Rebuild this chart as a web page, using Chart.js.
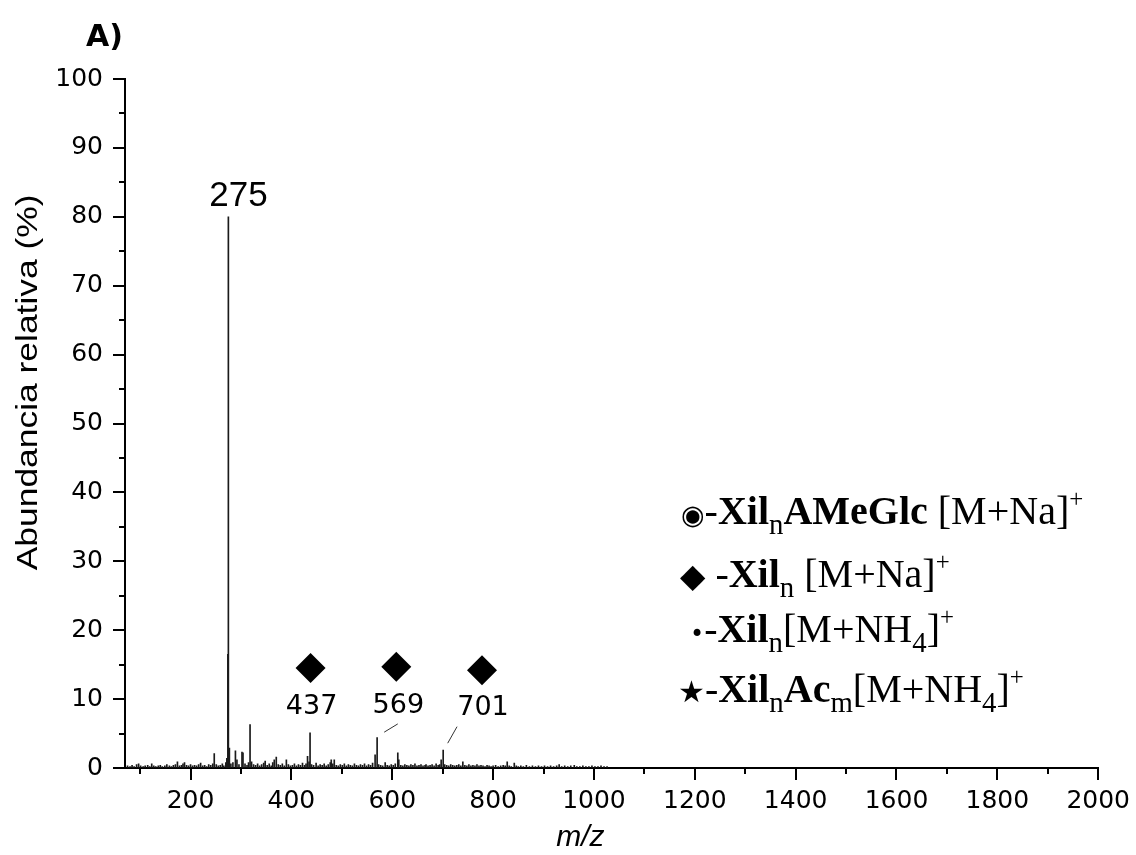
<!DOCTYPE html>
<html>
<head>
<meta charset="utf-8">
<script src="https://cdn.jsdelivr.net/npm/chart.js@4.4.1/dist/chart.umd.min.js"></script>
<style>
  body { margin: 0; background: #fff; }
  #wrap { position: relative; width: 1136px; height: 855px; }
  .key { position: absolute; font-family: 'Liberation Serif', 'Times New Roman', serif; font-size: 40px; line-height: 1; white-space: nowrap; color: #000; }
  .key b { font-weight: bold; }
  .sb { position: relative; top: 10px; font-size: 0.72em; }
  .sp { position: relative; top: -17px; font-size: 0.62em; }
  .sym { font-family: 'DejaVu Sans', sans-serif; }
</style>
</head>
<body>
<div id="wrap">
  <canvas id="ms-chart" width="1136" height="855"></canvas>
  <div class="key" style="left:681px; top:491px;"><span class="sym" style="font-size:27px;">◉</span>-<b>Xil</b><span class="sb">n</span><b>AMeGlc</b> [M+Na]<span class="sp">+</span></div>
  <div class="key" style="left:680px; top:554px;"><span class="sym" style="font-size:33px;">◆</span> -<b>Xil</b><span class="sb">n</span> [M+Na]<span class="sp">+</span></div>
  <div class="key" style="left:690px; top:609px;"><span class="sym" style="font-size:24px;">•</span>-<b>Xil</b><span class="sb">n</span>[M+NH<span class="sb">4</span>]<span class="sp">+</span></div>
  <div class="key" style="left:678px; top:669px;"><span class="sym" style="font-size:30px;">★</span>-<b>Xil</b><span class="sb">n</span><b>Ac</b><span class="sb">m</span>[M+NH<span class="sb">4</span>]<span class="sp">+</span></div>
</div>
<script>
//--------------------------------------------- Data ----------------------------------------------------------
// main peaks (m/z, relative abundance %)
var peakMz    = [247, 272, 274, 275, 277, 289, 302, 304, 318, 370, 432, 437, 566, 570, 611, 697, 701];
var peakAbund = [2.1, 1.4, 16.5, 80, 2.9, 2.5, 2.3, 2.2, 6.3, 1.6, 1.7, 5.1, 1.9, 4.4, 2.2, 1.2, 2.6];

// small baseline peaks
var baseMz = [75, 80, 84, 88, 93, 97, 101, 106, 110, 115, 119, 123, 127, 131, 136, 140, 144, 149, 153, 158,
  162, 166, 170, 174, 178, 182, 185, 188, 192, 196, 200, 204, 208, 212, 216, 220, 224, 228, 232, 236,
  240, 244, 251, 255, 259, 263, 266, 270, 280, 284, 292, 296, 308, 312, 315, 321, 325, 329, 333, 337,
  341, 345, 348, 352, 356, 360, 363, 366, 374, 378, 382, 386, 390, 394, 398, 402, 406, 410, 414, 418,
  422, 426, 429, 435, 440, 444, 449, 453, 457, 461, 465, 469, 473, 477, 479, 482, 485, 489, 493, 497,
  501, 505, 509, 513, 517, 521, 525, 529, 533, 537, 541, 545, 549, 553, 557, 561, 573, 577, 581, 586,
  590, 594, 598, 602, 606, 613, 617, 621, 625, 629, 633, 637, 641, 645, 649, 653, 657, 661, 665, 667,
  671, 675, 679, 683, 687, 691, 694, 704, 708, 712, 716, 720, 724, 728, 732, 736, 740, 744, 748, 752,
  756, 760, 764, 768, 772, 776, 780, 784, 788, 792, 796, 800, 805, 810, 815, 820, 824, 828, 832, 836,
  842, 846, 850, 855, 860, 866, 872, 878, 884, 890, 896, 902, 908, 914, 920, 926, 931, 936, 942, 948,
  954, 961, 966, 972, 978, 984, 990, 996, 1002, 1008, 1014, 1020, 1026];
var baseAbund = [0.3, 0.2, 0.4, 0.2, 0.5, 0.6, 0.3, 0.2, 0.3, 0.4, 0.2, 0.6, 0.3, 0.2, 0.3, 0.4, 0.2, 0.3, 0.5, 0.3,
  0.2, 0.4, 0.5, 0.9, 0.3, 0.4, 0.6, 0.8, 0.4, 0.3, 0.5, 0.3, 0.4, 0.3, 0.5, 0.7, 0.3, 0.4, 0.2, 0.5,
  0.4, 0.6, 0.5, 0.3, 0.4, 0.6, 0.3, 0.8, 0.6, 0.8, 1.2, 0.5, 0.6, 0.4, 0.8, 0.9, 0.5, 0.4, 0.6, 0.3,
  0.5, 0.7, 1.0, 0.4, 0.6, 0.3, 0.8, 1.2, 0.5, 0.4, 0.6, 0.3, 1.2, 0.5, 0.3, 0.4, 0.6, 0.3, 0.5, 0.4,
  0.7, 0.4, 0.6, 0.9, 0.5, 0.4, 0.7, 0.3, 0.5, 0.4, 0.6, 0.3, 0.5, 0.8, 1.2, 0.6, 1.2, 0.4, 0.3, 0.5,
  0.4, 0.6, 0.3, 0.5, 0.4, 0.3, 0.6, 0.4, 0.3, 0.5, 0.4, 0.6, 0.3, 0.5, 0.4, 0.7, 0.5, 0.4, 0.3, 0.8,
  0.4, 0.3, 0.5, 0.4, 0.6, 1.2, 0.4, 0.3, 0.5, 0.4, 0.3, 0.5, 0.4, 0.6, 0.3, 0.4, 0.5, 0.3, 0.4, 0.5,
  0.3, 0.4, 0.5, 0.3, 0.6, 0.4, 0.5, 0.5, 0.4, 0.3, 0.5, 0.4, 0.3, 0.4, 0.5, 0.3, 0.9, 0.4, 0.3, 0.5,
  0.3, 0.4, 0.3, 0.5, 0.3, 0.4, 0.3, 0.2, 0.4, 0.3, 0.2, 0.3, 0.4, 0.2, 0.3, 0.4, 0.3, 0.9, 0.3, 0.2,
  0.7, 0.3, 0.2, 0.3, 0.2, 0.4, 0.2, 0.3, 0.2, 0.3, 0.2, 0.3, 0.2, 0.3, 0.2, 0.3, 0.5, 0.2, 0.3, 0.2,
  0.3, 0.4, 0.2, 0.2, 0.3, 0.2, 0.2, 0.3, 0.2, 0.2, 0.3, 0.2, 0.2];

// diamond markers (Xil_n [M+Na]+)
var diamondMz    = [438, 608, 778];
var diamondAbund = [14.5, 14.7, 14.2];

// peak labels
var labelText  = ['275', '437', '569', '701'];
var labelMz    = [295, 440, 612, 780];
var labelAbund = [82.9, 8.8, 9.0, 8.7];

// leader lines from labels to peaks [mz1, y1, mz2, y2]
var leaderLines = [[584, 5.2, 611, 6.4], [710, 3.6, 728.5, 6.0]];

var xTicks = [200, 400, 600, 800, 1000, 1200, 1400, 1600, 1800, 2000];
var yTicks = [0, 10, 20, 30, 40, 50, 60, 70, 80, 90, 100];

//--------------------------------------------- Build ----------------------------------------------------------
var spectrum = [];
for (var i = 0; i < baseMz.length; i++) spectrum.push({ x: baseMz[i], y: baseAbund[i] });
for (var j = 0; j < peakMz.length; j++) spectrum.push({ x: peakMz[j], y: peakAbund[j] });
var diamonds = diamondMz.map(function(m, k) { return { x: m, y: diamondAbund[k] }; });

var tickMarks = {
	id: 'tickMarks',
	afterDraw: function(chart) {
		var ctx = chart.ctx, x = chart.scales.x, y = chart.scales.y;
		ctx.save();
		ctx.strokeStyle = '#000';
		ctx.lineWidth = 2;
		x.ticks.forEach(function(t) {
			var px = Math.round(x.getPixelForValue(t.value));
			var len = xTicks.indexOf(t.value) >= 0 ? 12 : 6;
			ctx.beginPath(); ctx.moveTo(px, x.top); ctx.lineTo(px, x.top + len); ctx.stroke();
		});
		y.ticks.forEach(function(t) {
			var py = Math.round(y.getPixelForValue(t.value));
			var len = yTicks.indexOf(t.value) >= 0 ? 12 : 6;
			ctx.beginPath(); ctx.moveTo(y.right, py); ctx.lineTo(y.right - len, py); ctx.stroke();
		});
		ctx.restore();
	}
};

var annotations = {
	id: 'annotations',
	afterDatasetsDraw: function(chart) {
		var ctx = chart.ctx, x = chart.scales.x, y = chart.scales.y, area = chart.chartArea;
		ctx.save();
		ctx.fillStyle = '#000';
		ctx.textAlign = 'center';
		ctx.textBaseline = 'middle';
		labelText.forEach(function(txt, k) {
			ctx.font = k === 0 ? '35px "Liberation Sans", Arial, sans-serif' : '27px "DejaVu Sans", sans-serif';
			ctx.fillText(txt, x.getPixelForValue(labelMz[k]), y.getPixelForValue(labelAbund[k]));
		});
		ctx.strokeStyle = '#333';
		ctx.lineWidth = 1;
		leaderLines.forEach(function(l) {
			ctx.beginPath();
			ctx.moveTo(x.getPixelForValue(l[0]), y.getPixelForValue(l[1]));
			ctx.lineTo(x.getPixelForValue(l[2]), y.getPixelForValue(l[3]));
			ctx.stroke();
		});
		// panel letter
		ctx.font = 'bold 30px "DejaVu Sans", sans-serif';
		ctx.textAlign = 'left';
		ctx.textBaseline = 'alphabetic';
		ctx.fillText('A)', area.left - 39, 46);
		// x title
		ctx.font = 'italic 30px "Liberation Sans", Arial, sans-serif';
		ctx.textAlign = 'center';
		ctx.fillText('m/z', area.left + (area.right - area.left) * 0.468, 846);
		// y title
		ctx.save();
		ctx.translate(37, area.top + (area.bottom - area.top) * 0.713);
		ctx.rotate(-Math.PI / 2);
		ctx.scale(1.18, 1);
		ctx.font = '30px "Liberation Sans", Arial, sans-serif';
		ctx.textAlign = 'left';
		ctx.fillText('Abundancia relativa (%)', 0, 0);
		ctx.restore();
		ctx.restore();
	}
};

var ctx = document.getElementById('ms-chart').getContext('2d');
var msChart = new Chart(ctx, {
	type: 'bar',
	data: {
		datasets: [{
			type: 'bar',
			data: spectrum,
			backgroundColor: '#1a1a1a',
			barThickness: 1,
			grouped: false,
			borderWidth: 0
		}, {
			type: 'scatter',
			data: diamonds,
			pointStyle: 'rectRot',
			pointRadius: 15,
			backgroundColor: '#000',
			borderWidth: 0
		}]
	},
	options: {
		responsive: false,
		animation: false,
		layout: { padding: { left: 0, top: 79, right: 37, bottom: 0 } },
		plugins: { legend: { display: false }, tooltip: { enabled: false } },
		scales: {
			x: {
				type: 'linear',
				min: 70,
				max: 2000,
				offset: false,
				afterFit: function(s) { s.height = 87; },
				border: { display: true, color: '#000', width: 2 },
				grid: { display: true, drawOnChartArea: false, drawTicks: true, tickLength: 12, color: 'transparent' },
				ticks: {
					stepSize: 100,
					includeBounds: false,
					autoSkip: false,
					maxRotation: 0,
					padding: 6,
					color: '#000',
					font: { family: '"DejaVu Sans", sans-serif', size: 25 },
					callback: function(v) { return xTicks.indexOf(v) >= 0 ? v : ''; }
				}
			},
			y: {
				min: 0,
				max: 100,
				afterFit: function(s) { s.width = 125; },
				border: { display: true, color: '#000', width: 2 },
				grid: { display: true, drawOnChartArea: false, drawTicks: true, tickLength: 12, color: 'transparent' },
				ticks: {
					stepSize: 5,
					autoSkip: false,
					padding: 10,
					color: '#000',
					font: { family: '"DejaVu Sans", sans-serif', size: 25 },
					callback: function(v) { return yTicks.indexOf(v) >= 0 ? v : ''; }
				}
			}
		}
	},
	plugins: [tickMarks, annotations]
});
</script>
</body>
</html>
